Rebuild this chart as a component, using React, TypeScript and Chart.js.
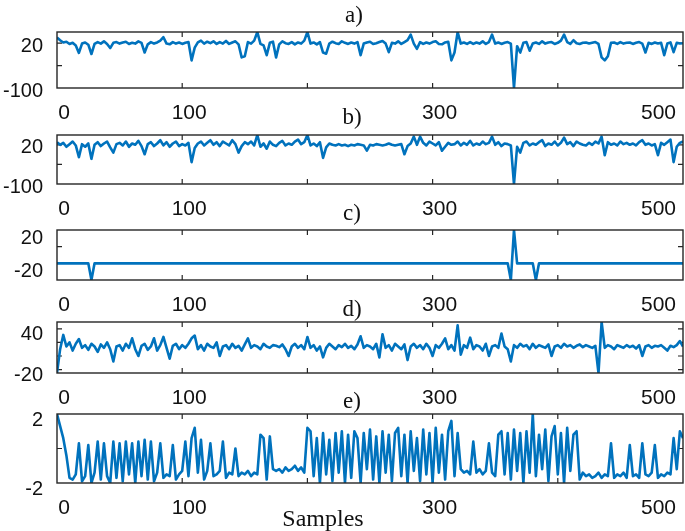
import React, { useEffect, useRef } from "react";
import { Chart, registerables } from "chart.js";

Chart.register(...registerables);

// ---------- data ----------
const SAMPLE_STEP = 2.5; // spacing (in samples) between the read-off values
const X_TICKS = [0, 100, 200, 300, 400, 500];
const X_TICK_LABELS = ["0", "100", "", "300", "", "500"];
const PANEL_TITLES = ["a)", "b)", "c)", "d)", "e)"];
const X_TITLE = "Samples";

const seriesA = [
  35, 28, 22, 24, 18, 21, 14, -6, 19, 22,
  16, -9, 18, 23, 19, 25, 18, 7, 21, 23,
  19, 22, 24, 18, 21, 19, 25, 21, -5, 17,
  23, 19, 22, 27, 36, 19, 17, 23, 19, 22,
  18, 21, 23, -26, 8, 22, 27, 19, 24, 20,
  25, 18, 23, 19, 26, 18, 22, 25, 17, -18,
  -15, 23, 19, 27, 50, 18, 14, -12, 21, 24,
  -18, 17, 25, 20, 18, 23, 17, 22, 19, 27,
  50, 19, 22, 17, 23, -5, -8, 19, 24, 20,
  18, 25, 21, 18, 22, 19, 23, -12, 19, 22,
  24, 18, 20, 23, 26, 19, -4, 21, 19, 25,
  18, 23, 28, 43, 19, 5, 23, 18, 22, 19,
  23, 25, 18, 17, 22, 24, -26, -5, 50, 19,
  22, 18, 23, 18, 22, 19, 25, 18, 23, 43,
  19, 22, 18, 21, 23, 19, -100, 12, -5, 21,
  23, 0, 19, 22, 18, 25, 19, 22, 23, 18,
  21, 27, 43, 23, 18, 28, 20, 18, 21, 22,
  19, 21, 23, 18, -18, -26, -15, 21, 22, 18,
  23, 19, 21, 22, 18, 21, 23, 19, -5, 21,
  18, 22, 19, 21, -12, 19, 22, -4, 21, 19,
  20,
];

const seriesB = [
  28, 20, 26, 14, 22, 30, 18, -18, 22, 14,
  24, -23, 20, 28, 16, 24, 30, 12, -4, 22,
  26, 18, 30, 14, 24, 20, 32, 16, -9, 22,
  28, 16, 24, 34, 18, 28, 14, 24, 30, 16,
  22, 18, 26, -33, 10, 24, 30, 18, 26, 34,
  20, 28, 16, 30, 24, 18, 34, 22, -4, 16,
  28, 22, 30, 18, 50, 14, 24, 8, 30, 20,
  16, 26, 32, 18, 24, 20, 30, 36, 22, 28,
  50, 18, 24, 16, 28, -20, 12, 24, 20, 18,
  22, 18, 20, 16, 20, 18, 22, 20, 18, 2,
  20, 18, 22, 20, 18, 20, 24, 20, 18, 20,
  22, -9, 16, 24, 45, 20, 45, 26, 18, 30,
  24, 18, 28, 2, 14, 26, 20, 22, 30, 18,
  26, 20, 32, 18, 24, 20, 30, 22, 26, 45,
  20, 28, 16, 24, 22, 18, -100, 14, -4, 26,
  30, 18, 24, 20, 28, 34, 16, 24, 20, 30,
  18, 26, 42, 22, 28, 16, 30, 24, 20, 18,
  26, 20, 30, 24, 45, -12, 28, 20, 24, 18,
  30, 22, 26, 20, 24, 18, 28, 34, 20, 24,
  18, 22, -12, 26, 20, 28, 36, -33, 14, 26,
  30,
];

const seriesCSamples = [0, 25, 27.5, 30, 360, 362.5, 365, 367.5, 380, 382.5, 385, 500];
const seriesCValues = [-20, -20, -40, -20, -20, -40, 20, -20, -20, -40, -20, -20];

const seriesD = [
  -25, 10, 31, 14, 20, 8, 18, 25, 12, 16,
  9, 18, 14, 6, 17, 12, 20, 10, -8, 14,
  16, 8, 18, 12, 26, 10, 0, 15, 18, 9,
  14, 26, 8, 16, 28, 12, -4, 15, 18, 10,
  16, 12, 18, 26, 30, 10, 16, 8, 18, 14,
  12, 20, 0, 14, 16, 10, 18, 12, 15, 8,
  17, 26, 12, 16, 14, 10, 18, 14, 12, 16,
  15, 13, 17, 10, 0, 14, 18, 12, 16, 10,
  28, 12, 16, 8, 14, -2, 12, 18, 14, 10,
  16, 13, 18, 12, 15, 10, 17, 29, 12, 16,
  14, 10, 18, -2, 32, 12, 16, 8, 18, 14,
  10, 17, -6, 14, 18, 12, 16, 10, 18, 12,
  0, 16, 12, 18, 26, 10, 16, 8, 45, 2,
  16, 12, 27, 10, 16, 14, 8, 18, 0, 14,
  16, 12, 33, 14, 10, -8, 16, 12, 18, 14,
  16, 10, 18, 12, 16, 14, 12, 17, 0, 14,
  16, 12, 18, 14, 16, 12, 15, 17, 13, 16,
  14, 12, 15, -25, 50, 12, 16, 14, 10, 16,
  14, 12, 16, 13, 15, 11, 16, 0, 14, 16,
  12, 15, 14, 16, 12, 8, 15, 13, 16, 22,
  14,
];

const seriesE = [
  2.0, 1.3, 0.6, -0.4, -1.7, -1.8, -1.5, 0.3, -1.9, -1.6,
  0.2, -2.0, -1.4, 0.4, -1.8, 0.3, -1.6, -2.0, 0.4, -1.7,
  0.3, -1.9, 0.4, -1.5, 0.3, -2.0, 0.4, -1.6, 0.5, -1.8,
  0.4, -1.9, -1.4, 0.3, -1.7, -1.5, -1.6, 0.2, -1.8, -1.5,
  -1.3, 0.4, -1.6, 0.6, 1.2, -1.4, 0.5, -1.8, -1.3, 0.3,
  -1.6, -1.5, -1.3, 0.4, -1.7, -1.4, -1.5, 0.0, -1.6, -1.4,
  -1.5, -1.3, -1.6, -1.4, -1.5, 0.8, 0.6, -1.8, 0.7, -1.2,
  -1.3, -1.2, -1.4, -1.1, -1.3, -1.2, -1.0, -1.3, -1.1, -1.4,
  1.2, 1.0, -1.6, 0.6, -2.0, 0.9, -1.5, 0.5, -1.9, 0.9,
  -1.4, 1.0, -2.0, 0.8, -1.7, 1.0, 0.6, -2.0, 0.9, -1.2,
  1.1, -1.8, 0.7, -2.0, 1.0, -1.4, 0.8, -1.9, 0.9, 1.2,
  -1.6, 0.8, -2.0, 1.0, -1.3, 0.6, -1.9, 1.1, -1.5, 0.9,
  -2.0, 1.2, -1.4, 0.8, -1.8, 1.0, 1.6, -1.6, 0.9, -1.2,
  -1.4, -1.3, -1.5, 0.4, -1.4, -1.2, -1.5, -1.3, 0.3, -1.4,
  -1.6, 0.8, 1.0, -1.5, 0.9, -1.8, 1.1, -1.3, 0.9, -2.0,
  1.0, -1.4, 2.0, -1.6, 0.8, -1.2, 1.1, -1.9, 0.7, 1.3,
  -1.5, 0.9, -2.0, 1.2, -1.3, 0.8, 1.0, -1.8, -1.4, -1.6,
  -1.5, -1.7, -1.6, -1.4, -1.7, -1.5, -1.6, 0.3, -1.7, -1.5,
  -1.6, -1.4, -1.7, 0.2, -1.6, -1.5, -1.7, 0.3, -1.5, -1.6,
  -1.4, 0.2, -1.7, -1.5, -1.6, -1.4, -1.5, 0.6, -1.2, 1.0,
  0.6,
];

// y-axis ticks and their labels per panel
const Y_TICKS_A = [-100, -40, 20];
const Y_LABELS_A = ["-100", "", "20"];
const Y_TICKS_B = [-100, -40, 20];
const Y_LABELS_B = ["-100", "", "20"];
const Y_TICKS_C = [-40, -20, 0, 20];
const Y_LABELS_C = ["", "-20", "", "20"];
const Y_TICKS_D = [-20, 0, 20, 40];
const Y_LABELS_D = ["-20", "", "", "40"];
const Y_TICKS_E = [-2, 0, 2];
const Y_LABELS_E = ["-2", "", "2"];

// ---------- layout / style ----------
const W = 685;
const PLOT_LEFT = 57;
const PLOT_RIGHT = 683;
const PAD_TOP = 34;
const PAD_BOTTOM = 42;
const LINE_COLOR = "#0072BD";
const AXIS_COLOR = "#262626";
const TEXT_COLOR = "#111111";
const SANS = '"Liberation Sans", Arial, Helvetica, sans-serif';
const SERIF = '"Liberation Serif", "Times New Roman", serif';

type PanelDef = {
  points: { x: number; y: number }[];
  yMin: number;
  yMax: number;
  yTicks: number[];
  yLabels: string[];
  boxTop: number;
  boxBottom: number;
  labelOffset: number;
};

const uniform = (vals: number[]) => vals.map((v, i) => ({ x: i * SAMPLE_STEP, y: v }));

const PANELS: PanelDef[] = [
  { points: uniform(seriesA), yMin: -100, yMax: 50, yTicks: Y_TICKS_A, yLabels: Y_LABELS_A, boxTop: 32, boxBottom: 88, labelOffset: 3.5 },
  { points: uniform(seriesB), yMin: -100, yMax: 50, yTicks: Y_TICKS_B, yLabels: Y_LABELS_B, boxTop: 135, boxBottom: 184, labelOffset: 3 },
  { points: seriesCSamples.map((x, i) => ({ x, y: seriesCValues[i] })), yMin: -40, yMax: 20, yTicks: Y_TICKS_C, yLabels: Y_LABELS_C, boxTop: 230, boxBottom: 280, labelOffset: 8 },
  { points: uniform(seriesD), yMin: -25, yMax: 50, yTicks: Y_TICKS_D, yLabels: Y_LABELS_D, boxTop: 322, boxBottom: 373, labelOffset: 6 },
  { points: uniform(seriesE), yMin: -2, yMax: 2, yTicks: Y_TICKS_E, yLabels: Y_LABELS_E, boxTop: 414, boxBottom: 483, labelOffset: 6.5 },
];

const TITLE_POS = [
  { x: 354, y: 15 },
  { x: 352, y: 117 },
  { x: 352, y: 213 },
  { x: 352, y: 309 },
  { x: 352, y: 401 },
];

const TICK_LEN = 5;

const ticksPlugin = {
  id: "insideTicks",
  beforeDatasetsDraw(chart: any) {
    const { ctx, chartArea: ca, scales } = chart;
    const xs = scales.x;
    const ys = scales.y;
    ctx.save();
    ctx.strokeStyle = AXIS_COLOR;
    ctx.lineWidth = 1.2;
    ctx.beginPath();
    X_TICKS.forEach((v) => {
      const px = xs.getPixelForValue(v);
      if (px <= ca.left + 1 || px >= ca.right - 1) return;
      ctx.moveTo(px, ca.bottom);
      ctx.lineTo(px, ca.bottom - TICK_LEN);
      ctx.moveTo(px, ca.top);
      ctx.lineTo(px, ca.top + TICK_LEN);
    });
    ys.ticks.forEach((t: any) => {
      const py = ys.getPixelForValue(t.value);
      if (py <= ca.top + 1 || py >= ca.bottom - 1) return;
      ctx.moveTo(ca.left, py);
      ctx.lineTo(ca.left + TICK_LEN, py);
      ctx.moveTo(ca.right, py);
      ctx.lineTo(ca.right - TICK_LEN, py);
    });
    ctx.stroke();
    ctx.restore();
  },
  afterDatasetsDraw(chart: any) {
    const { ctx, chartArea: ca, scales } = chart;
    const xs = scales.x;
    ctx.save();
    ctx.strokeStyle = AXIS_COLOR;
    ctx.lineWidth = 1.4;
    ctx.strokeRect(ca.left, ca.top, ca.right - ca.left, ca.bottom - ca.top);
    ctx.fillStyle = TEXT_COLOR;
    ctx.font = `21px ${SANS}`;
    ctx.textAlign = "center";
    ctx.textBaseline = "middle";
    X_TICKS.forEach((v, i) => {
      const lab = X_TICK_LABELS[i];
      if (!lab) return;
      const w = ctx.measureText(lab).width;
      let cx = xs.getPixelForValue(v) + 7;
      cx = Math.min(cx, ca.right - 7 - w / 2);
      ctx.fillText(lab, cx, ca.bottom + 25);
    });
    ctx.restore();
  },
};

function Panel({ def }: { def: PanelDef }) {
  const ref = useRef<HTMLCanvasElement | null>(null);
  const height = def.boxBottom - def.boxTop + PAD_TOP + PAD_BOTTOM;
  useEffect(() => {
    if (!ref.current) return;
    const chart = new Chart(ref.current, {
      type: "line",
      data: {
        datasets: [
          {
            data: def.points,
            borderColor: LINE_COLOR,
            borderWidth: 2.6,
            pointRadius: 0,
            tension: 0,
            fill: false,
            borderJoinStyle: "round",
          },
        ],
      },
      options: {
        animation: false,
        responsive: false,
        maintainAspectRatio: false,
        layout: { padding: { left: 0, right: W - PLOT_RIGHT, top: PAD_TOP, bottom: PAD_BOTTOM } },
        plugins: { legend: { display: false }, tooltip: { enabled: false }, title: { display: false } },
        scales: {
          x: { type: "linear", min: 0, max: 500, display: false },
          y: {
            type: "linear",
            min: def.yMin,
            max: def.yMax,
            afterBuildTicks: (scale: any) => {
              scale.ticks = def.yTicks.map((v) => ({ value: v }));
            },
            afterFit: (scale: any) => {
              scale.width = PLOT_LEFT;
            },
            grid: { display: false, drawTicks: false },
            border: { display: false },
            ticks: {
              autoSkip: false,
              padding: 14,
              labelOffset: def.labelOffset,
              color: TEXT_COLOR,
              font: { family: SANS, size: 20 },
              callback: (value: any) => {
                const idx = def.yTicks.indexOf(Number(value));
                return idx >= 0 ? def.yLabels[idx] : "";
              },
            },
          },
        },
      },
      plugins: [ticksPlugin],
    } as any);
    return () => chart.destroy();
  }, [def]);
  return (
    <canvas
      ref={ref}
      width={W}
      height={height}
      style={{ position: "absolute", left: 0, top: def.boxTop - PAD_TOP, width: W, height }}
    />
  );
}

export default function App() {
  return (
    <div style={{ position: "absolute", left: 0, top: 0, width: W, height: 531, background: "#fff", overflow: "hidden" }}>
      {PANELS.map((p, i) => (
        <Panel key={i} def={p} />
      ))}
      {PANEL_TITLES.map((t, i) => (
        <div
          key={"t" + i}
          style={{
            position: "absolute",
            left: TITLE_POS[i].x,
            top: TITLE_POS[i].y - 12,
            transform: "translateX(-50%)",
            font: `23px ${SERIF}`,
            lineHeight: "24px",
            color: TEXT_COLOR,
            whiteSpace: "nowrap",
          }}
        >
          {t}
        </div>
      ))}
      <div
        style={{
          position: "absolute",
          left: 323,
          top: 518 - 13,
          transform: "translateX(-50%)",
          font: `24px ${SERIF}`,
          lineHeight: "26px",
          color: TEXT_COLOR,
          whiteSpace: "nowrap",
        }}
      >
        {X_TITLE}
      </div>
    </div>
  );
}
